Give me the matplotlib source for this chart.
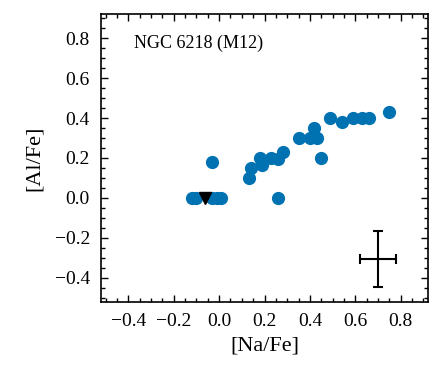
import matplotlib
matplotlib.use("Agg")
import matplotlib.pyplot as plt
from matplotlib.ticker import MultipleLocator

na_fe = [-0.12, -0.10, -0.03, -0.01, 0.01, -0.03, 0.13, 0.14, 0.18, 0.19, 0.23, 0.26,
         0.28, 0.26, 0.35, 0.40, 0.43, 0.42, 0.45, 0.49, 0.54, 0.59, 0.63, 0.66, 0.75]
al_fe = [0.00, 0.00, 0.00, 0.00, 0.00, 0.18, 0.10, 0.15, 0.20, 0.165, 0.20, 0.195,
         0.23, 0.00, 0.30, 0.30, 0.30, 0.35, 0.20, 0.40, 0.38, 0.40, 0.40, 0.40, 0.43]
ul_na = [-0.06]
ul_al = [0.00]
err_x, err_y = [0.70], [-0.305]
err_dx, err_dy = [0.08], [0.14]
cluster = "NGC 6218 (M12)"

plt.rcParams['font.family'] = ['Liberation Serif', 'DejaVu Serif']
plt.rcParams['axes.unicode_minus'] = True
fig = plt.figure(figsize=(4.36, 3.70), dpi=100)
ax = fig.add_axes([0.2317, 0.184, 0.75, 0.778])

ax.plot(na_fe, al_fe, 'o', color='#0072B2', markersize=8.5, linestyle='none')
ax.plot(ul_na, ul_al, 'v', color='black', markersize=8, linestyle='none')
ax.errorbar(err_x, err_y, xerr=err_dx, yerr=err_dy, fmt='none', ecolor='black',
            elinewidth=1.5, capsize=3.8, capthick=1.5)

ax.set_xlim(-0.52, 0.92)
ax.set_ylim(-0.52, 0.92)
ax.xaxis.set_major_locator(MultipleLocator(0.2))
ax.yaxis.set_major_locator(MultipleLocator(0.2))
ax.xaxis.set_minor_locator(MultipleLocator(0.05))
ax.yaxis.set_minor_locator(MultipleLocator(0.05))
ax.tick_params(which='both', direction='in', top=True, right=True, labelsize=14, pad=8)
ax.tick_params(which='major', length=5, width=1)
ax.tick_params(which='minor', length=3, width=1)
for s in ax.spines.values():
    s.set_linewidth(1.2)

ax.set_xlabel('[Na/Fe]', fontsize=16, labelpad=5)
ax.set_ylabel('[Al/Fe]', fontsize=16, labelpad=8)
ax.text(0.1, 0.9, cluster, transform=ax.transAxes, fontsize=13, va='center', ha='left')

fig.savefig('out.png', dpi=100)
